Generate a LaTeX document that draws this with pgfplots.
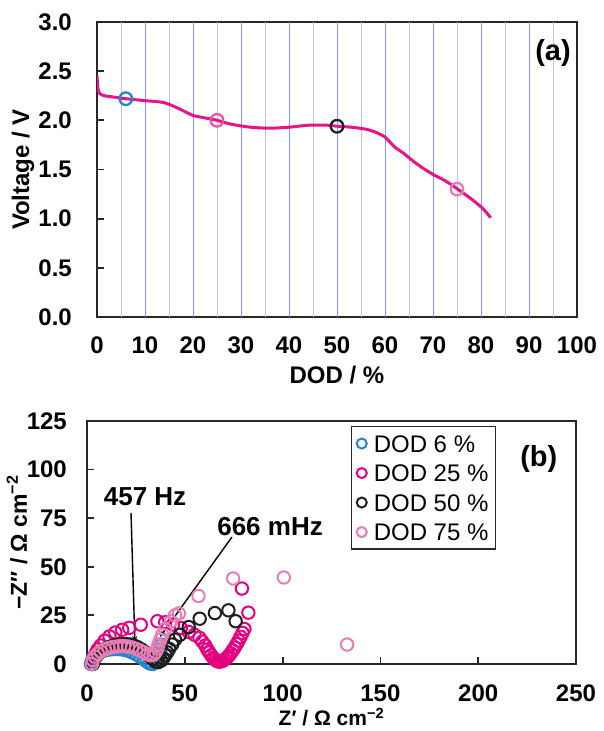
\documentclass[border=0pt]{standalone}
\usepackage{fontspec}
\setmainfont{Liberation Sans}
\usepackage{pgfplots}
\pgfplotsset{compat=1.18}
\usetikzlibrary{arrows.meta}

\definecolor{curvemag}{RGB}{230,20,135}
\definecolor{dodblue}{RGB}{35,135,205}
\definecolor{dodmag}{RGB}{228,0,127}
\definecolor{dodblack}{RGB}{30,30,30}
\definecolor{dodpink}{RGB}{232,125,180}
\definecolor{dodmagtop}{RGB}{232,90,160}
\definecolor{gridmaj}{RGB}{138,150,230}
\definecolor{gridmin}{RGB}{188,195,242}
\definecolor{frame}{RGB}{40,40,40}

\newcommand{\lblfont}{\bfseries\fontsize{24}{28}\selectfont}

\pgfplotsset{
  panel/.style={
    scale only axis,
    anchor=south west,
    tick align=inside,
    xtick pos=bottom, ytick pos=left,
    axis line style={line width=2pt, draw=frame},
    major tick length=7pt,
    tick label style={font=\lblfont, inner sep=0pt},
    label style={font=\lblfont},
  }
}

\begin{document}
\begin{tikzpicture}
\useasboundingbox (0pt,0pt) rectangle (604pt,731pt);

% (a) discharge curve
\begin{axis}[panel,
  at={(97pt,414pt)}, width=480pt, height=295pt,
  xmin=0, xmax=100, ymin=0, ymax=3,
  xtick={0,10,...,100},
  xticklabels={0,10,20,30,40,50,60,70,80,90,100},
  major x tick style={draw=none},
  ytick style={line width=1.8pt, color=frame},
  ytick={0,0.5,...,3},
  yticklabels={0.0,0.5,1.0,1.5,2.0,2.5,3.0},
  xticklabel style={anchor=center, yshift=-28pt},
  yticklabel style={anchor=east, xshift=-25pt},
  xlabel={DOD / \%}, ylabel={Voltage / V},
  xlabel style={at={(axis description cs:0.5,-0.197)}, anchor=center},
  ylabel style={at={(axis description cs:-0.154,0.5)}, anchor=center},
]
% vertical grid lines
\pgfplotsinvokeforeach{5,15,...,95}{\draw[gridmin, line width=1pt] (axis cs:#1,0) -- (axis cs:#1,3);}
\pgfplotsinvokeforeach{10,20,...,90}{\draw[gridmaj, line width=1pt] (axis cs:#1,0) -- (axis cs:#1,3);}
\addplot[curvemag, line width=3pt, smooth, tension=0.4] coordinates {
  (0,2.45) (0.2,2.32) (0.6,2.27) (1.5,2.25) (3,2.24) (6,2.22) (10,2.20)
  (14,2.18) (17,2.12) (20,2.05) (23,2.02) (25,2.00) (28,1.96) (32,1.93)
  (36,1.92) (40,1.93) (44,1.95) (48,1.95) (50,1.94) (53,1.93) (56,1.91)
  (58,1.88) (60,1.83) (62,1.73) (64,1.66) (66,1.58) (68,1.51) (70,1.45)
  (72,1.40) (74,1.34) (76,1.27) (78,1.20) (80,1.12) (81,1.07) (82,1.01)
};
\addplot[only marks, mark=o, mark size=6.3pt, line width=2.3pt, dodblue] coordinates {(6,2.22)};
\addplot[only marks, mark=o, mark size=6.3pt, line width=2.3pt, dodmagtop] coordinates {(25,2.00)};
\addplot[only marks, mark=o, mark size=6.3pt, line width=2.3pt, dodblack] coordinates {(50,1.94)};
\addplot[only marks, mark=o, mark size=6.3pt, line width=2.3pt, dodpink] coordinates {(75,1.30)};
\node[font=\bfseries\fontsize{29}{33}\selectfont] at (axis description cs:0.95,0.895) {(a)};
\end{axis}

% (b) impedance spectra
\begin{axis}[panel,
  at={(87pt,67pt)}, width=489pt, height=243pt,
  xmin=0, xmax=250, ymin=0, ymax=125,
  xtick={0,50,...,250}, ytick={0,25,...,125},
  tick style={line width=1.8pt, color=frame},
  /pgf/number format/assume math mode=true,
  xticklabel style={anchor=center, yshift=-29pt},
  yticklabel style={anchor=east, xshift=-20pt},
  clip=false,
  xlabel={Z′ / Ω cm\textsuperscript{−2}},
  ylabel={−Z″ / Ω cm\textsuperscript{−2}},
  xlabel style={at={(axis description cs:0.5,-0.218)}, anchor=center,
    font=\bfseries\fontsize{21}{25}\selectfont},
  ylabel style={at={(axis description cs:-0.143,0.5)}, anchor=center,
    font=\bfseries\fontsize{23}{27}\selectfont},
  legend style={at={(axis description cs:0.54,0.979)}, anchor=north west,
    draw=frame, line width=1.4pt, inner xsep=5pt, inner ysep=2pt,
    font=\fontsize{24}{28}\selectfont,
    nodes={inner xsep=2pt, inner ysep=6pt, text height=17.5pt, text depth=0pt},
    /tikz/every odd column/.append style={column sep=5pt}},
  legend cell align=left,
  legend image code/.code={\draw[#1, only marks, mark size=5pt, line width=2pt] plot coordinates {(0pt,0pt)};},
]
\addplot[only marks, mark=o, mark size=6.2pt, line width=2pt, dodblue] coordinates {
  (2,0) (2.5,1.5) (3,3) (4,4.5) (5.5,5.5) (7,6.3) (9,7) (11,7.4) (13,7.6)
  (15,7.7) (17,7.6) (19,7.3) (21,6.8) (23,6) (25,5) (27,3.8) (29,2.5)
  (30.5,1.3) (32,0.3) (33.5,0) (35,0.8) (36,2.5) (37,5) (37.5,7.5) (38,10)
};
\addlegendentry{DOD 6 \%}
\addplot[only marks, mark=o, mark size=6.2pt, line width=2pt, dodmag] coordinates {
  (2.5,0) (3,2) (3.5,3.5) (4.5,5.5) (5.5,7.5) (7,9.5) (9,12) (11.5,14.2)
  (14.5,16.2) (18,17.6) (21.6,18.6) (27.5,20.2) (36,22) (40,21.5) (44,20.3)
  (48,18.5) (52,16.5) (55,15) (57.5,13.5) (59,11.5) (60.5,9.5) (61.5,7.5)
  (62.5,6) (63.5,4.5) (64.5,3.2) (65.5,2.2) (66.5,1.5) (67.5,1.2) (68.5,1.3)
  (69.5,1.7) (70.5,2.4) (71.5,3.2) (72.5,4.2) (73.5,5.5) (74.5,7) (75.5,8.5)
  (76.5,10.2) (77.5,12) (78.5,14) (79.5,16) (80.5,18) (82.5,26.4) (79.2,38.8)
};
\addlegendentry{DOD 25 \%}
\addplot[only marks, mark=o, mark size=6.2pt, line width=2pt, dodblack] coordinates {
  (3,0) (3.5,2) (4.5,3.8) (6,5.5) (8,7) (10,8.2) (12,9) (14,9.6) (16,10)
  (18,10.2) (20,10.2) (22,10) (24,9.5) (26,8.6) (28,7.4) (30,5.8) (32,4)
  (33.5,2.5) (35,1.3) (36.5,1) (38,1.8) (39,3) (40,4.5) (41,6) (42,7.8)
  (43.5,10) (45,12.5) (47.5,15) (52,19) (57.6,23.3) (65.4,26.2) (72.3,27.6) (76,22)
};
\addlegendentry{DOD 50 \%}
\addplot[only marks, mark=o, mark size=6.2pt, line width=2pt, dodpink] coordinates {
  (2.5,0) (3,2) (4,3.8) (5.5,5.3) (7,6.5) (9,7.5) (11,8.2) (13,8.7) (15,9)
  (17,9.2) (19,9.2) (21,9) (23,8.5) (25,7.8) (27,7) (29,6) (31,5) (32.5,4.5)
  (34,4.8) (35,6) (36,8) (36.5,10) (37.5,12.5) (38.5,15) (40,18) (43,22)
  (45,25) (47,26) (57,35) (74.7,44) (100.6,44.5) (133,10)
};
\addlegendentry{DOD 75 \%}
\draw[line width=1.4pt, -{Stealth[length=7pt,width=5pt]}] (axis cs:22.5,77.7) -- (axis cs:24.5,10.8);
\draw[line width=1.4pt, -{Stealth[length=7pt,width=5pt]}] (axis cs:74.1,65.3) -- (axis cs:37.3,13.9);
\node[font=\bfseries\fontsize{26}{30}\selectfont] at (axis cs:29.7,85.9) {457 Hz};
\node[font=\bfseries\fontsize{26}{30}\selectfont] at (axis cs:93.6,70.5) {666 mHz};
\node[font=\bfseries\fontsize{29}{33}\selectfont] at (axis description cs:0.924,0.844) {(b)};
\end{axis}
\end{tikzpicture}
\end{document}
